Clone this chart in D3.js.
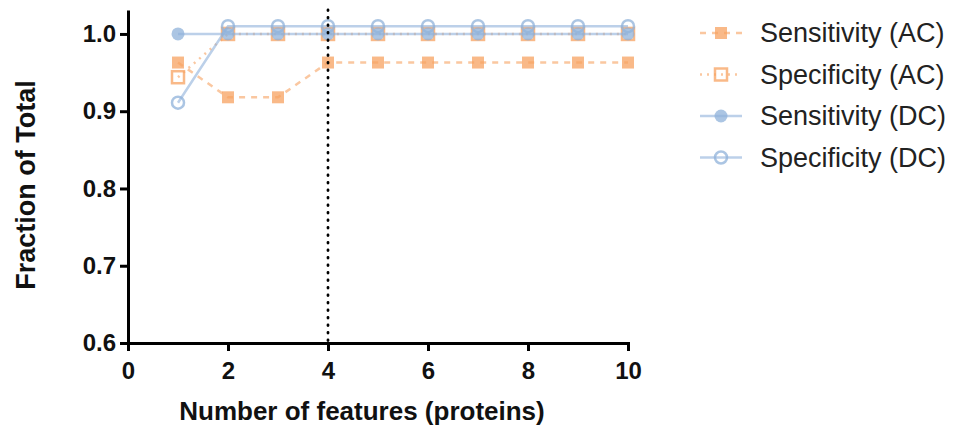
<!DOCTYPE html>
<html>
<head>
<script src="https://d3js.org/d3.v7.min.js"></script>
<style>
  body { margin: 0; background: #fff; }
  text { font-family: "Liberation Sans", Arial, sans-serif; }
</style>
</head>
<body>
<svg width="961" height="432"></svg>
<script>
var features = [1, 2, 3, 4, 5, 6, 7, 8, 9, 10];
var sensAC = [0.963, 0.918, 0.918, 0.963, 0.963, 0.963, 0.963, 0.963, 0.963, 0.963];
var specAC = [0.944, 1.0, 1.0, 1.0, 1.0, 1.0, 1.0, 1.0, 1.0, 1.0];
var sensDC = [1.0, 1.0, 1.0, 1.0, 1.0, 1.0, 1.0, 1.0, 1.0, 1.0];
var specDC = [0.911, 1.01, 1.01, 1.01, 1.01, 1.01, 1.01, 1.01, 1.01, 1.01];
var xTicks = [0, 2, 4, 6, 8, 10];
var yTicks = [0.6, 0.7, 0.8, 0.9, 1.0];
var cutoff = 4;

var orange = "#f7a160", blue = "#8fb1da";

var series = [
  {name: "Sensitivity (AC)", values: sensAC, color: orange, dash: "6,6", marker: "square", fill: true},
  {name: "Specificity (AC)", values: specAC, color: orange, dash: "2,5", marker: "square", fill: false},
  {name: "Sensitivity (DC)", values: sensDC, color: blue, dash: null, marker: "circle", fill: true},
  {name: "Specificity (DC)", values: specDC, color: blue, dash: null, marker: "circle", fill: false}
];

var svg = d3.select("svg");
var x = d3.scaleLinear().domain([0, 10]).range([128, 628]);
var y = d3.scaleLinear().domain([0.6, 1.031]).range([343, 10]);

// series lines + markers
function drawMarker(g, s, px, py) {
  if (s.marker === "square") {
    g.append("rect")
      .attr("x", px - 6).attr("y", py - 6).attr("width", 12).attr("height", 12)
      .attr("fill", s.fill ? s.color : "none")
      .attr("stroke", s.fill ? "none" : s.color)
      .attr("stroke-width", 2.5)
      .attr("opacity", 0.75);
  } else {
    g.append("circle")
      .attr("cx", px).attr("cy", py).attr("r", s.fill ? 6.5 : 6)
      .attr("fill", s.fill ? s.color : "none")
      .attr("stroke", s.fill ? "none" : s.color)
      .attr("stroke-width", 2.5)
      .attr("opacity", 0.75);
  }
}

var line = d3.line().x(function(d) { return x(d[0]); }).y(function(d) { return y(d[1]); });

series.forEach(function(s) {
  var g = svg.append("g");
  var pts = features.map(function(f, i) { return [f, s.values[i]]; });
  g.append("path")
    .attr("d", line(pts))
    .attr("fill", "none")
    .attr("stroke", s.color)
    .attr("stroke-width", 2.5)
    .attr("stroke-opacity", 0.6)
    .attr("stroke-dasharray", s.dash);
  pts.forEach(function(p) { drawMarker(g, s, x(p[0]), y(p[1])); });
});

// vertical cutoff line
svg.append("line")
  .attr("x1", x(cutoff)).attr("x2", x(cutoff))
  .attr("y1", y(1.031)).attr("y2", y(0.6))
  .attr("stroke", "#000").attr("stroke-width", 2.8)
  .attr("stroke-dasharray", "0.5,7").attr("stroke-linecap", "round");

// axes
var xaxis = d3.axisBottom(x).tickValues(xTicks).tickSize(8).tickSizeOuter(8).tickFormat(d3.format("d"));
var yaxis = d3.axisLeft(y).tickValues(yTicks).tickSize(8).tickSizeOuter(0).tickFormat(d3.format(".1f"));

var gx = svg.append("g").attr("transform", "translate(0,343)").call(xaxis);
var gy = svg.append("g").attr("transform", "translate(128,0)").call(yaxis);

[gx, gy].forEach(function(g) {
  g.select(".domain").attr("stroke", "#000").attr("stroke-width", 3);
  g.selectAll(".tick line").attr("stroke", "#000").attr("stroke-width", 3);
  g.selectAll("text")
    .style("font-size", "24px").style("font-weight", "bold")
    .style("font-family", "'Liberation Sans', Arial, sans-serif")
    .attr("fill", "#111");
});
gx.selectAll("text").attr("dy", "1.05em");
gy.selectAll("text").attr("dx", "-1px");

// axis titles
svg.append("text")
  .attr("x", 362).attr("y", 420)
  .attr("text-anchor", "middle")
  .style("font-size", "26px").style("font-weight", "bold")
  .attr("fill", "#111")
  .text("Number of features (proteins)");

svg.append("text")
  .attr("transform", "translate(35,185) rotate(-90)")
  .attr("text-anchor", "middle")
  .style("font-size", "27px").style("font-weight", "bold")
  .attr("fill", "#111")
  .text("Fraction of Total");

// legend
var legend = svg.append("g");
series.forEach(function(s, i) {
  var ly = 33 + i * 41.5;
  var g = legend.append("g");
  g.append("line")
    .attr("x1", 700).attr("x2", 742).attr("y1", ly).attr("y2", ly)
    .attr("stroke", s.color).attr("stroke-width", 2.5)
    .attr("stroke-opacity", 0.6)
    .attr("stroke-dasharray", s.dash);
  drawMarker(g, s, 721, ly);
  g.append("text")
    .attr("x", 760).attr("y", ly).attr("dy", "0.35em")
    .style("font-size", "27px")
    .attr("fill", "#222")
    .text(s.name);
});
</script>
</body>
</html>
